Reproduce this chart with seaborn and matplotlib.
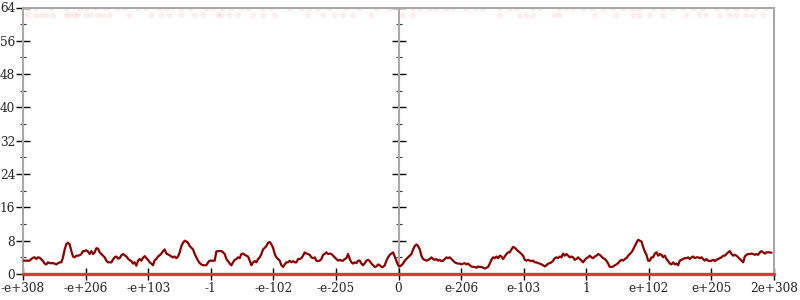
import numpy as np
import pandas as pd
import matplotlib
matplotlib.use("Agg")
import matplotlib.pyplot as plt
import seaborn as sns
from matplotlib.ticker import MultipleLocator

# ---- data ----
tick_labels = ["-e+308", "-e+206", "-e+103", "-1", "-e-102", "-e-205", "0",
               "e-206", "e-103", "1", "e+102", "e+205", "2e+308"]

seg1 = [3.2, 3.2, 3.2, 3.2, 3.2, 3.6, 3.9, 4.0, 3.6, 4.0, 3.9, 3.5, 3.1, 2.5, 2.3, 2.8,
        2.6, 2.6, 2.6, 2.5, 2.3, 2.6, 2.8, 2.8, 4.0, 5.9, 7.2, 7.5, 7.1, 5.5, 4.2, 4.0,
        4.4, 4.4, 4.5, 4.8, 5.5, 5.5, 5.7, 5.4, 4.8, 5.5, 4.8, 5.2, 6.2, 6.1, 5.2, 4.8,
        4.4, 4.0, 3.2, 2.8, 2.8, 2.8, 3.5, 4.0, 4.2, 3.7, 3.8, 4.5, 4.8, 4.5, 4.2, 3.7,
        3.3, 3.1, 2.5, 2.8, 2.0, 3.2, 3.6, 3.2, 3.9, 4.3, 3.8, 3.4, 2.8, 2.5, 2.1, 3.3,
        3.6, 4.2, 4.5, 4.9, 5.5, 5.9, 4.9, 4.7, 4.5, 4.2, 4.0, 4.2, 3.8, 4.2, 5.2, 6.7,
        7.5, 8.0, 7.8, 7.5, 6.7, 6.3, 5.9, 4.8, 4.0, 3.2, 2.6, 2.3, 2.1, 2.1, 2.1, 2.8,
        3.2, 3.2, 3.2, 3.2]
seg2 = [5.4, 5.5, 5.5, 5.5, 5.2, 4.8, 3.6, 3.1, 2.5, 2.1,
        2.8, 3.4, 3.6, 4.0, 3.8, 4.8, 4.9, 4.6, 4.4, 4.2,
        3.2, 2.1, 2.8, 3.1, 2.8, 3.6, 4.0, 4.8, 5.9, 6.3,
        6.7, 7.5, 7.7, 7.1, 6.3, 4.8, 4.0, 3.6, 3.2, 2.1,
        1.7, 2.3, 2.8, 2.8, 3.2, 2.8, 3.1, 2.8, 2.8, 3.6,
        3.6, 3.8, 4.4, 5.2, 4.9, 4.8, 4.6, 4.0, 3.8, 4.0,
        3.2, 3.1, 3.2, 3.6, 4.6, 4.8, 5.2, 4.8, 4.9, 4.8,
        4.4, 4.0, 3.6, 3.2, 3.4, 3.2, 3.2, 3.6, 3.8, 4.8,
        3.6, 2.8, 2.5, 2.8, 2.6, 3.2, 3.2, 2.5, 2.1, 2.6,
        3.2, 3.4, 3.1, 2.5, 2.1, 1.7, 1.8, 2.3, 2.1, 1.7,
        1.7, 2.1, 3.2, 4.0, 4.6, 4.9, 5.2, 4.2, 3.1, 2.1,
        1.8, 2.1, 2.5]
seg3 = [3.2, 3.6, 4.0, 4.4, 4.8, 5.9, 6.7, 7.1, 6.7, 5.9,
        4.4, 3.6, 3.4, 3.2, 3.4, 3.6, 4.0, 3.6, 3.4, 3.6,
        3.2, 3.4, 3.1, 3.2, 3.6, 4.0, 3.8, 4.0, 3.6, 3.2,
        2.8, 2.6, 2.5, 2.5, 2.3, 2.5, 2.6, 2.3, 2.5, 2.1,
        1.8, 1.7, 1.7, 1.5, 1.8, 1.7, 1.7, 1.5, 1.3, 1.5,
        1.7, 2.5, 3.4, 4.0, 3.8, 4.2, 3.8, 4.4, 4.2, 3.6,
        4.2, 4.8, 5.2, 5.2, 5.9, 6.5, 6.3, 5.9, 5.5, 5.2,
        4.8, 4.4, 3.4, 3.2, 3.4, 3.2, 3.1, 3.2, 2.8, 2.8,
        2.6, 2.5, 2.3, 2.1, 1.8, 2.1, 2.5, 2.6, 2.8, 3.2,
        3.8, 4.0, 3.8, 4.2, 4.0, 4.9, 4.4, 4.8, 4.4, 4.0,
        4.2, 4.0, 3.4, 3.6, 4.0, 3.6, 3.2, 2.8, 3.4, 3.8,
        4.0, 4.4, 4.0, 3.8]
seg4 = [4.2, 4.4, 4.8, 4.6, 4.2, 3.8, 3.6, 3.2, 2.5, 1.7,
        1.7, 1.8, 2.1, 2.3, 2.6, 3.1, 3.4, 3.2, 3.6, 3.8,
        4.4, 4.8, 5.2, 5.9, 6.7, 7.5, 8.2, 8.0, 7.8, 6.5,
        5.4, 4.6, 3.2, 3.2, 4.0, 4.0, 4.9, 5.2, 4.4, 4.8,
        4.6, 4.0, 4.4, 3.6, 3.1, 2.5, 2.3, 2.8, 2.3, 2.5,
        2.1, 3.2, 3.4, 3.6, 3.8, 3.8, 4.0, 3.6, 4.0, 4.2,
        3.8, 4.0, 4.0, 3.8, 4.0, 3.6, 3.2, 3.6, 3.2, 3.1,
        3.2, 3.4, 3.1, 3.4, 3.6, 3.8, 4.0, 4.4, 4.4, 4.8,
        5.2, 5.5, 4.8, 4.4, 4.6, 4.4, 4.0, 3.6, 3.2, 2.8,
        4.2, 4.6, 4.8, 4.8, 4.9, 4.8, 4.6, 4.8, 4.6, 5.2,
        5.5, 5.2, 4.9, 5.2, 5.2, 5.2, 5.1]

dots_row1_x = [3, 8, 17, 26, 34, 38, 44, 50, 57, 61, 69, 74, 82, 86, 95, 101, 110, 114,
               120, 125, 131, 135, 144, 149, 160, 167, 172, 177, 184, 194, 202, 212, 220,
               234, 238, 244, 248, 254, 258, 266, 272, 276, 286, 292, 296, 306, 310, 322,
               326, 330, 336, 342, 348, 354, 360, 366, 370, 378, 384, 390, 396, 402, 408,
               416, 422, 428, 434, 440, 446]
dots_row1_y = 63.8
dots_row2_x = [3, 8, 11, 14, 18, 26, 28, 31, 33, 38, 41, 45, 48, 52, 64, 77, 83, 88, 95,
               103, 108, 117, 119, 124, 129, 138, 144, 151, 171, 180, 187, 192, 198, 209,
               228, 234, 286, 298, 302, 306, 319, 322, 343, 356, 366, 370, 376, 384, 398,
               406, 410, 418, 424, 428, 434, 438, 444]
dots_row2_y = 62.1

values = seg1 + seg2 + seg3 + seg4
line_df = pd.DataFrame({"pos": np.arange(len(values)), "count": values})
dots_df = pd.DataFrame({
    "pos": dots_row1_x + dots_row2_x,
    "count": [dots_row1_y] * len(dots_row1_x) + [dots_row2_y] * len(dots_row2_x),
})

# ---- style ----
sns.set_style("white")
plt.rcParams["font.family"] = ["DejaVu Serif"]

fig = plt.figure(figsize=(8, 3), dpi=100)
ax = fig.add_axes([23 / 800, 26 / 300, 751 / 800, 266.5 / 300])

x_max = 450.5
ax.set_xlim(0, x_max)
ax.set_ylim(0, 64)

sns.scatterplot(data=dots_df, x="pos", y="count", ax=ax, color="#e03030",
                alpha=0.08, s=18, edgecolor="none", legend=False, zorder=1)
sns.lineplot(data=line_df, x="pos", y="count", ax=ax, color="#8b0000",
             lw=1.6, zorder=3)
ax.axhline(0, color="#e52a2a", lw=2.4, alpha=0.9, zorder=4, clip_on=False)

spine_col = "#a8a8a8"
for s in ax.spines.values():
    s.set_color(spine_col)
    s.set_linewidth(1.5)

fs = 8.7
ax.set_xticks(np.linspace(0, x_max, len(tick_labels)))
ax.set_xticklabels(tick_labels, fontsize=fs)
ax.yaxis.set_major_locator(MultipleLocator(8))
ax.yaxis.set_minor_locator(MultipleLocator(4))
ax.tick_params(axis="y", which="major", direction="inout", length=10, width=1,
               color="black", left=True, right=True, labelleft=True,
               labelright=False, labelsize=fs, pad=0.5)
ax.tick_params(axis="y", which="minor", direction="inout", length=5, width=0.8,
               color="#333333", left=True, right=True)
ax.tick_params(axis="x", which="major", direction="inout", length=8, width=1,
               color="black", bottom=True, top=False, labelsize=fs, pad=2)
ax.set_xlabel("")
ax.set_ylabel("")

# middle vertical axis at the "0" position
ax2 = ax.twinx()
ax2.set_ylim(0, 64)
ax2.spines["right"].set_position(("axes", 0.5))
for name, s in ax2.spines.items():
    s.set_visible(name == "right")
ax2.spines["right"].set_color(spine_col)
ax2.spines["right"].set_linewidth(1.5)
ax2.yaxis.set_major_locator(MultipleLocator(8))
ax2.yaxis.set_minor_locator(MultipleLocator(4))
ax2.tick_params(axis="y", which="major", direction="inout", length=10, width=1,
                color="black", labelright=False)
ax2.tick_params(axis="y", which="minor", direction="inout", length=5, width=0.8,
                color="#333333")
ax2.set_zorder(0)
ax.set_zorder(1)
ax.patch.set_visible(False)

fig.savefig("out.png", dpi=100)
